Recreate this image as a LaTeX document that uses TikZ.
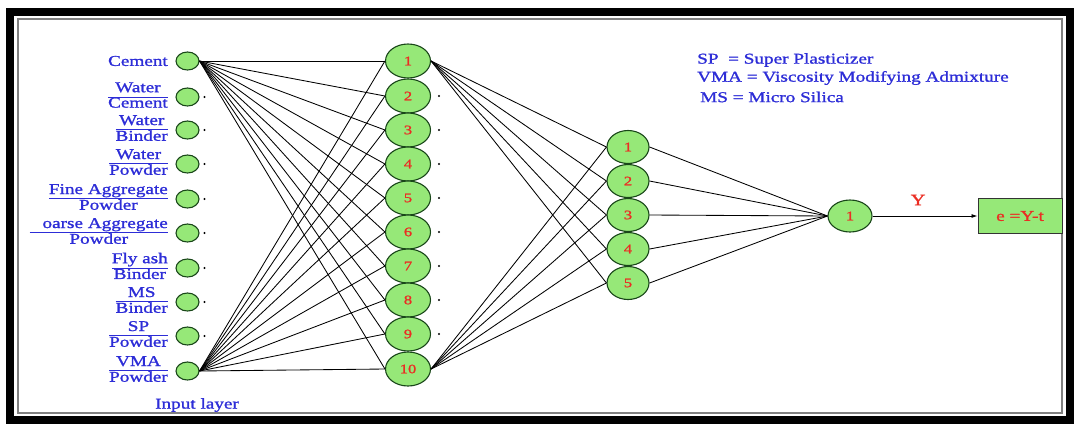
\documentclass[tikz,border=0pt]{standalone}
\usepackage{fontspec}
\setmainfont{Liberation Serif}[FakeStretch=1.28,FakeBold=1.3]
\usetikzlibrary{shapes.geometric}
\usetikzlibrary{arrows.meta}
\definecolor{lblblue}{RGB}{45,45,215}
\definecolor{numred}{RGB}{235,45,35}
\definecolor{cellgreen}{RGB}{150,232,120}
\definecolor{celledge}{RGB}{25,70,25}
\newcommand{\ratio}[2]{{\renewcommand{\arraystretch}{0.8}\setlength{\arrayrulewidth}{1pt}%
  \begin{tabular}{@{}c@{}}#1\\\hline #2\end{tabular}}}
\tikzset{
  cell/.style={ellipse,draw=celledge,fill=cellgreen,line width=1.1pt,inner sep=0pt},
  innode/.style={cell,minimum width=23pt,minimum height=18pt},
  hidnode/.style={cell,minimum width=45pt,minimum height=34pt,text=numred,font=\fontsize{13}{15}\selectfont},
  midnode/.style={cell,minimum width=42pt,minimum height=33pt,text=numred,font=\fontsize{13}{15}\selectfont},
  lbl/.style={text=lblblue,font=\fontsize{15}{18}\selectfont,inner sep=0pt},
  wire/.style={line width=0.85pt},
}
\begin{document}
\begin{tikzpicture}[x=1pt,y=-1pt]
  \useasboundingbox (0,0) rectangle (1075,424);
  \draw[line width=8pt] (9.5,12) rectangle (1069.5,420);
  \draw[gray,line width=1.2pt] (18,19) rectangle (1062,413);
  %% input layer
  \foreach \i/\y in {1/61,2/97,3/130,4/164,5/199,6/233,7/268,8/302,9/336,10/371}
    \node[innode] (in\i) at (187.5,\y) {};
  \node[lbl,anchor=east] (lab1) at (168,61) {Cement};
  \node[lbl,anchor=east] (lab2) at (168,97) {\ratio{Water}{Cement}};
  \node[lbl,anchor=east] (lab3) at (168,130) {\ratio{Water}{Binder}};
  \node[lbl,anchor=east] (lab4) at (168,164) {\ratio{Water}{Powder}};
  \node[lbl,anchor=east] (lab5) at (168,199) {\ratio{Fine Aggregate}{Powder}};
  \node[lbl,anchor=east] (lab6) at (168,233) {\ratio{\phantom{C}oarse Aggregate}{Powder}};
  \node[lbl,anchor=east] (lab7) at (168,268) {\ratio{Fly ash}{Binder}};
  \node[lbl,anchor=east] (lab8) at (168,302) {\ratio{MS}{Binder}};
  \node[lbl,anchor=east] (lab9) at (168,336) {\ratio{SP}{Powder}};
  \node[lbl,anchor=east] (lab10) at (168,371) {\ratio{VMA}{Powder}};
  \node[lbl] (inlayer) at (197,405) {Input layer};
  %% hidden layers
  \foreach \i/\y in {1/61,2/96,3/130,4/164,5/198,6/232,7/266,8/300,9/334,10/369}
    \node[hidnode] (h\i) at (408,\y) {\i};
  \foreach \i/\y in {1/147,2/181,3/215,4/249,5/283}
    \node[midnode] (m\i) at (628,\y) {\i};
  %% output
  \node[midnode,minimum width=44pt,minimum height=32pt] (out) at (850,216) {1};
  \node[draw=black!80,fill=cellgreen,line width=1pt,minimum width=84pt,minimum height=35pt,
        text=numred,font=\fontsize{15}{18}\selectfont] (err) at (1020,216) {e =Y-t};
  \node[text=numred,font=\fontsize{16}{18}\selectfont] (ylab) at (918,200) {Y};
  %% legend
  \node[lbl,anchor=west] (key1) at (697,60) {SP~~= Super Plasticizer};
  \node[lbl,anchor=west] (key2) at (697,78) {VMA = Viscosity Modifying Admixture};
  \node[lbl,anchor=west] (key3) at (700,97) {MS = Micro Silica};
  %% connections
  \foreach \j in {1,...,10} {
    \draw[wire] (in1.east) -- (h\j.west);
    \draw[wire] (in10.east) -- (h\j.west);
  }
  \foreach \k in {1,...,5} {
    \draw[wire] (h1.east) -- (m\k.west);
    \draw[wire] (h10.east) -- (m\k.west);
    \draw[wire] (m\k.east) -- (out.west);
  }
  \draw[wire,-{Latex[length=6pt,width=4pt]}] (out.east) -- (err.west);
  \foreach \i in {2,...,9} {
    \fill (in\i.east) ++(5,0) circle (1.1);
    \fill (h\i.east) ++(8,0) circle (1.1);
  }
\end{tikzpicture}
\end{document}
